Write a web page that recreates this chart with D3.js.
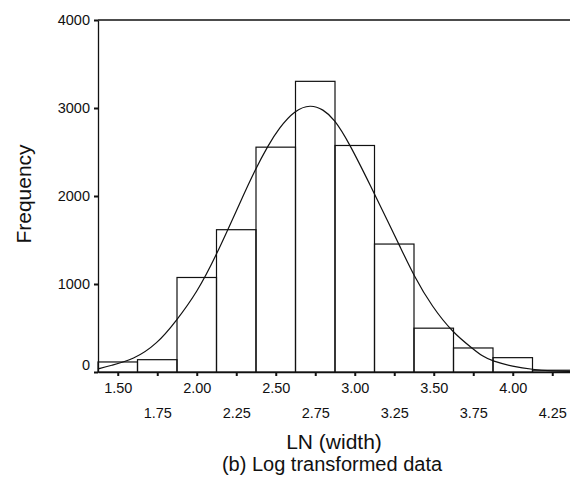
<!DOCTYPE html>
<html>
<head>
<meta charset="utf-8">
<script src="https://cdn.jsdelivr.net/npm/d3@7"></script>
<style>
  body { margin: 0; background: #fff; }
  svg text { font-family: "Liberation Sans", Arial, sans-serif; fill: #111; }
</style>
</head>
<body>
<div id="chart"></div>
<script>
// Histogram bins (centres, width 0.25) and counts
const binCenters = [1.50, 1.75, 2.00, 2.25, 2.50, 2.75, 3.00, 3.25, 3.50, 3.75, 4.00, 4.25];
const binCounts = [114, 140, 1074, 1617, 2555, 3303, 2574, 1454, 498, 273, 163, 20];

// Fitted curve, points
const curveX = [1.375, 1.45, 1.60, 1.75, 1.87, 2.00, 2.12, 2.28, 2.37, 2.45, 2.52, 2.62, 2.72, 2.80, 2.87, 2.96, 3.11, 3.21, 3.28, 3.375, 3.49, 3.62, 3.74, 3.81, 3.87, 4.00, 4.125, 4.25, 4.375];
const curveY = [35, 72, 140, 320, 580, 900, 1310, 1950, 2300, 2570, 2770, 2975, 3040, 2985, 2875, 2620, 2080, 1710, 1450, 1090, 740, 450, 275, 175, 125, 62, 28, 12, 5];

const yTicks = [0, 1000, 2000, 3000, 4000];
const xTicks = [1.50, 1.75, 2.00, 2.25, 2.50, 2.75, 3.00, 3.25, 3.50, 3.75, 4.00, 4.25];

const width = 570, height = 490;
const binWidth = 0.25;

const svg = d3.select('#chart')
    .append('svg')
    .attr('width', width)
    .attr('height', height);

const x = d3.scaleLinear().domain([1.375, 4.375]).range([98, 572]);
const y = d3.scaleLinear().domain([0, 4000]).range([372, 20]);

// bars
svg.selectAll('.bar')
    .data(binCenters)
    .enter()
    .append('rect')
    .attr('class', 'bar')
    .attr('x', d => x(d - binWidth / 2))
    .attr('y', (d, i) => y(binCounts[i]))
    .attr('width', d => x(d + binWidth / 2) - x(d - binWidth / 2))
    .attr('height', (d, i) => y(0) - y(binCounts[i]))
    .attr('fill', 'none')
    .attr('stroke', '#111')
    .attr('stroke-width', 1.2);

// fitted curve
const line = d3.line()
    .x(d => x(d[0]))
    .y(d => y(d[1]))
    .curve(d3.curveBasis);

svg.append('path')
    .datum(curveX.map((v, i) => [v, curveY[i]]))
    .attr('d', line)
    .attr('fill', 'none')
    .attr('stroke', '#111')
    .attr('stroke-width', 1.2);

// top frame line
svg.append('line')
    .attr('x1', x.range()[0]).attr('x2', width)
    .attr('y1', y(4000)).attr('y2', y(4000))
    .attr('stroke', '#111')
    .attr('stroke-width', 1.3);

// y axis
const yAxis = svg.append('g')
    .attr('transform', `translate(${x.range()[0]},0)`)
    .call(d3.axisLeft(y).tickValues(yTicks).tickSize(4).tickSizeOuter(0).tickPadding(4).tickFormat(d3.format('d')));
yAxis.select('.domain').attr('stroke', '#111').attr('stroke-width', 1.3);
yAxis.selectAll('.tick line').attr('stroke', '#111').attr('stroke-width', 2);
yAxis.selectAll('.tick text')
    .style('font-size', '14.5px')
    .attr('dy', d => d === 0 ? '-0.2em' : '0.32em');

// x axis
const xAxis = svg.append('g')
    .attr('transform', `translate(0,${y(0)})`)
    .call(d3.axisBottom(x).tickValues(xTicks).tickSize(4).tickSizeOuter(0).tickFormat(d3.format('.2f')));
xAxis.select('.domain').attr('stroke', '#111').attr('stroke-width', 1.5);
xAxis.selectAll('.tick line').attr('stroke', '#111').attr('stroke-width', 2);
xAxis.selectAll('.tick text')
    .style('font-size', '14.5px')
    .attr('dy', 0)
    .attr('y', (d, i) => i % 2 === 0 ? 21 : 46);

// axis labels
svg.append('text')
    .attr('text-anchor', 'middle')
    .attr('transform', 'rotate(-90)')
    .attr('x', -194)
    .attr('y', 31)
    .style('font-size', '21px')
    .text('Frequency');

svg.append('text')
    .attr('text-anchor', 'middle')
    .attr('x', 334)
    .attr('y', 449)
    .style('font-size', '21px')
    .text('LN (width)');

svg.append('text')
    .attr('text-anchor', 'middle')
    .attr('x', 332)
    .attr('y', 471)
    .style('font-size', '20px')
    .text('(b) Log transformed data');
</script>
</body>
</html>
